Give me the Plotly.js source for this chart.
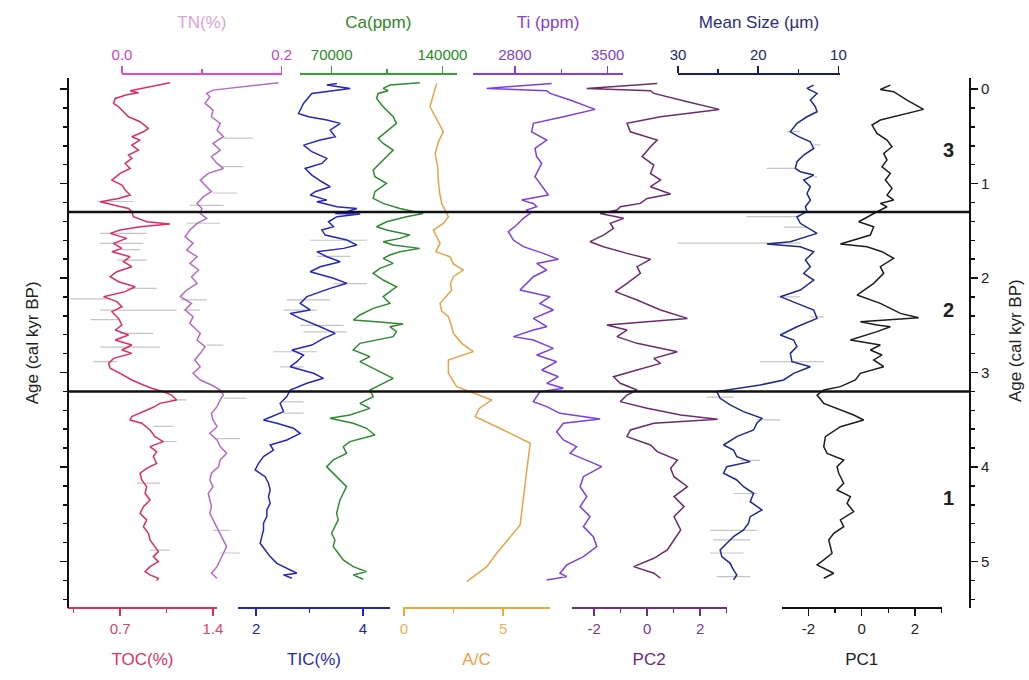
<!DOCTYPE html>
<html><head><meta charset="utf-8">
<script src="https://cdn.plot.ly/plotly-3.0.1.min.js"></script>
<style>html,body{margin:0;padding:0;background:#fff}#chart{width:1029px;height:680px}</style>
</head><body><div id="chart"></div>
<script>
// ---------- DATA (age in cal kyr BP) ----------
const tocAge=[-0.067,0.018,0.039,0.060,0.099,0.152,0.187,0.240,0.293,0.346,0.416,0.452,0.504,0.540,0.593,0.646,0.698,0.734,0.787,0.840,0.892,0.963,1.016,1.069,1.122,1.157,1.192,1.227,1.263,1.298,1.351,1.404,1.429,1.457,1.492,1.527,1.580,1.633,1.686,1.721,1.774,1.827,1.880,1.933,1.986,2.039,2.092,2.144,2.197,2.250,2.303,2.356,2.427,2.497,
2.550,2.603,2.656,2.709,2.761,2.797,2.850,2.903,2.955,3.008,3.079,3.132,3.167,3.202,3.238,3.290,3.326,3.368,3.414,3.467,3.502,3.537,3.608,3.678,3.731,3.784,3.837,3.890,3.961,4.014,4.066,4.137,4.208,4.278,4.349,4.419,4.490,4.560,4.631,4.701,4.772,4.842,4.895,4.948,5.001,5.054,5.107,5.142,5.177,5.202];
const tocVal=[1.075,0.775,0.838,0.75,0.663,0.65,0.688,0.725,0.763,0.85,0.913,0.875,0.788,0.85,0.788,0.838,0.763,0.788,0.738,0.775,0.7,0.638,0.713,0.738,0.775,0.688,0.55,0.65,0.763,0.788,0.8,0.9,1.075,0.85,0.7,0.625,0.75,0.65,0.713,0.638,0.775,0.725,0.788,0.675,0.625,0.688,0.813,0.738,0.575,0.675,0.713,0.638,0.688,0.713,
0.663,0.763,0.663,0.788,0.713,0.788,0.65,0.613,0.625,0.7,0.788,0.875,0.938,1.025,1.088,1.125,1.0,0.95,0.875,0.788,0.775,0.863,0.925,0.963,1.025,0.925,0.975,0.95,0.975,0.9,0.85,0.863,0.9,0.888,0.925,0.875,0.85,0.9,0.875,0.913,0.925,0.963,0.988,0.95,0.988,0.925,0.888,0.925,0.988,0.975];
const tocErrAge=[1.19,1.527,1.633,1.70,1.81,2.11,2.22,2.34,2.44,2.585,2.73,2.885,3.29,3.57,3.73,4.17,4.88];
const tocErrLo=[0.525,0.55,0.55,0.70,0.675,0.75,0.325,0.55,0.475,0.70,0.55,0.5,1.075,0.95,1.0,0.825,0.925];
const tocErrHi=[0.80,0.90,0.875,0.85,0.90,0.975,0.60,1.125,0.70,0.95,1.0,0.675,1.2,1.1,1.125,1.0,1.075];

const tnAge=[-0.067,0.011,0.046,0.081,0.152,0.222,0.293,0.363,0.434,0.504,0.575,0.646,0.716,0.787,0.840,0.892,0.963,1.033,1.086,1.139,1.210,1.263,1.316,1.368,1.421,1.492,1.563,1.633,1.704,1.774,1.845,1.915,1.986,2.056,2.127,2.197,2.268,2.338,2.409,2.479,2.532,
2.585,2.656,2.726,2.797,2.867,2.938,3.008,3.079,3.132,3.185,3.238,3.290,3.361,3.432,3.502,3.573,3.643,3.714,3.784,3.855,3.925,3.996,4.066,4.137,4.208,4.278,4.349,4.419,4.490,4.560,4.631,4.701,4.772,4.842,4.913,4.983,5.054,5.124,5.177];
const tnVal=[0.196,0.114,0.106,0.110,0.104,0.114,0.112,0.123,0.119,0.127,0.114,0.123,0.112,0.119,0.127,0.108,0.098,0.106,0.112,0.102,0.094,0.100,0.098,0.106,0.094,0.085,0.079,0.089,0.081,0.094,0.085,0.096,0.087,0.094,0.081,0.073,0.087,0.079,0.089,0.085,0.091,
0.098,0.094,0.104,0.098,0.091,0.098,0.089,0.098,0.112,0.123,0.127,0.123,0.119,0.112,0.114,0.119,0.110,0.119,0.123,0.131,0.123,0.121,0.112,0.110,0.114,0.108,0.110,0.112,0.110,0.114,0.119,0.123,0.127,0.131,0.127,0.123,0.119,0.112,0.119];
const tnErrAge=[0.52,0.82,1.10,1.23,1.42,2.23,2.34,2.71,3.27,3.70,4.67,4.91];
const tnErrLo=[0.127,0.123,0.114,0.085,0.081,0.073,0.077,0.106,0.127,0.119,0.114,0.123];
const tnErrHi=[0.164,0.152,0.144,0.127,0.123,0.106,0.098,0.127,0.156,0.148,0.135,0.148];

const ticAge=[-0.060,-0.042,-0.007,0.046,0.152,0.258,0.293,0.328,0.363,0.434,0.504,0.540,0.593,0.663,0.734,0.787,0.840,0.910,0.981,1.033,1.086,1.122,1.175,1.192,1.245,1.263,1.298,1.316,1.323,1.351,1.404,1.457,1.492,1.545,1.598,1.651,1.686,1.721,1.774,1.827,1.880,1.933,2.003,2.056,2.109,2.197,2.268,2.338,2.374,2.427,
2.515,2.585,2.638,2.709,2.761,2.814,2.885,2.938,3.008,3.061,3.114,3.185,3.255,3.326,3.414,3.502,3.537,3.590,3.643,3.714,3.767,3.820,3.890,3.961,4.031,4.102,4.172,4.243,4.313,4.384,4.454,4.525,4.595,4.666,4.737,4.807,4.878,4.948,5.019,5.089,5.124,5.142,5.177];
const ticVal=[3.514,3.326,3.764,3.044,2.888,2.794,2.982,3.326,3.576,3.388,3.482,3.201,2.888,3.044,3.326,3.232,2.919,3.044,3.232,3.388,3.107,3.013,3.326,3.138,3.514,3.889,3.701,3.482,3.951,3.514,3.357,3.451,3.232,3.295,3.701,3.889,3.639,3.138,3.326,3.576,3.201,3.013,3.451,3.701,3.388,2.951,2.826,3.013,2.638,2.826,
3.201,3.482,3.263,3.044,2.669,2.888,2.763,2.638,3.076,3.263,2.951,2.638,2.575,2.45,2.513,2.138,2.388,2.7,2.826,2.575,2.263,2.325,2.138,2.044,1.981,2.169,2.231,2.263,2.231,2.263,2.2,2.2,2.138,2.138,2.106,2.075,2.169,2.263,2.388,2.638,2.763,2.513,2.669];
const ticErrAge=[1.60,1.77,2.06,2.23,2.34,2.50,2.57,2.78,2.94,3.31,3.43];
const ticErrLo=[3.013,3.138,3.451,2.575,2.513,2.826,2.888,2.325,2.45,2.513,2.513];
const ticErrHi=[4.076,3.764,4.076,3.388,3.138,3.639,3.701,3.138,2.888,2.888,2.888];

const caAge=[-0.067,-0.042,-0.007,0.018,0.046,0.099,0.187,0.293,0.363,0.452,0.522,0.575,0.646,0.716,0.787,0.857,0.928,0.998,1.086,1.157,1.210,1.263,1.316,1.351,1.404,1.457,1.492,1.545,1.580,1.615,1.651,1.686,1.721,1.756,1.792,1.845,1.898,1.950,2.021,2.092,2.144,2.197,2.268,2.321,2.391,2.444,
2.462,2.486,2.515,2.567,2.620,2.691,2.761,2.832,2.885,2.938,3.008,3.061,3.114,3.185,3.255,3.326,3.379,3.449,3.484,3.537,3.590,3.661,3.731,3.784,3.855,3.925,3.996,4.066,4.137,4.208,4.278,4.349,4.419,4.490,4.560,4.631,4.701,4.772,4.842,4.913,4.983,5.054,5.107,5.142,5.188];
const caVal=[125680,106760,102560,105710,99410,98360,102560,108870,110970,104660,99410,102560,108870,104660,100460,96250,97300,104660,97300,96250,102560,113070,127780,117270,104660,98360,104660,119380,113070,102560,108870,125680,113070,106760,102560,108870,100460,96250,102560,110970,106760,102560,106760,96250,87850,83640,
98360,115170,106760,110970,108870,87850,83640,94150,87850,94150,102560,108870,102560,94150,96250,87850,94150,81540,68930,83640,92050,97300,81540,77340,79440,71030,66830,71030,75230,79440,77340,75230,74180,73130,74180,72080,69980,72080,71030,74180,77340,83640,92050,83640,89950];

const acAge=[-0.06,0.05,0.187,0.3,0.452,0.55,0.681,0.82,0.963,1.1,1.21,1.351,1.42,1.492,1.56,1.633,1.72,1.774,1.85,1.915,1.986,2.06,2.127,2.268,2.35,2.409,2.515,2.585,2.691,2.779,2.867,3.008,3.149,3.202,3.29,3.38,3.467,3.608,3.749,4.031,4.313,4.613,4.913,5.054,5.213];
const acVal=[1.65,1.5,1.31,1.6,1.99,1.75,1.57,1.7,1.73,1.8,1.9,2.24,2.0,1.48,1.65,1.82,1.6,2.32,2.5,2.99,2.49,2.35,2.41,1.82,1.9,2.24,2.41,2.49,2.91,3.5,2.24,2.24,2.66,3.33,4.43,3.8,3.59,5.02,6.37,6.2,6.03,5.86,4.68,4.18,3.17];

const tiAge=[-0.060,-0.007,0.018,0.046,0.116,0.215,0.293,0.363,0.452,0.540,0.628,0.716,0.787,0.857,0.928,0.998,1.122,1.175,1.210,1.245,1.280,1.316,1.368,1.439,1.510,1.598,1.668,1.739,1.802,1.845,1.915,1.986,2.056,2.127,2.197,2.268,2.338,2.427,2.515,
2.550,2.620,2.656,2.744,2.814,2.885,2.973,3.044,3.114,3.167,3.202,3.308,3.361,3.432,3.491,3.537,3.626,3.714,3.784,3.855,3.996,4.102,4.208,4.313,4.419,4.525,4.631,4.737,4.842,4.948,5.036,5.124,5.160,5.195];
const tiVal=[3077,2586,3040,3065,3216,3405,3166,2939,2926,3040,2951,2964,3002,2977,2951,2989,3052,2850,2939,2964,2888,2914,2863,2813,2750,2788,2863,3014,3128,2964,3040,2939,2888,2838,3065,2989,3090,2939,3040,
2939,2788,2939,3090,2964,3115,3002,3128,3040,3166,2989,2939,3040,3140,3443,3166,3115,3166,3266,3216,3455,3317,3292,3342,3292,3367,3317,3392,3418,3317,3191,3140,3191,3040];

const pc2Age=[-0.060,-0.007,0.018,0.046,0.134,0.215,0.293,0.363,0.452,0.540,0.610,0.716,0.804,0.892,0.963,1.033,1.111,1.157,1.210,1.245,1.280,1.316,1.368,1.421,1.474,1.545,1.615,1.668,1.739,1.802,1.880,1.950,2.056,2.144,2.233,2.338,2.427,2.497,
2.550,2.620,2.691,2.779,2.850,2.903,2.973,3.044,3.114,3.185,3.238,3.308,3.379,3.449,3.495,3.537,3.608,3.678,3.767,3.837,3.925,4.014,4.102,4.208,4.313,4.419,4.525,4.666,4.772,4.878,4.966,5.054,5.124,5.177];
const pc2Val=[0.379,-2.283,0.125,0.252,1.519,2.723,0.505,-0.762,-0.635,0.379,0.125,-0.192,0.252,0.125,0.505,0.125,0.886,-0.002,-0.255,-1.016,-1.142,-1.776,-0.889,-1.396,-1.269,-1.649,-2.156,-1.649,-0.762,0.125,-0.382,-0.255,-0.762,-1.206,-0.382,0.505,1.519,-1.523,
-0.762,-1.142,-0.382,1.139,0.252,0.505,-0.382,-1.269,-1.016,-0.382,-0.762,-1.016,-0.002,1.266,2.66,0.252,-0.635,-0.762,0.125,0.379,1.139,0.886,1.012,1.519,1.012,1.392,1.012,1.266,1.012,0.759,0.252,-0.508,0.252,0.505];

const msAge=[-0.042,-0.007,0.046,0.116,0.187,0.240,0.293,0.363,0.452,0.504,0.557,0.628,0.698,0.769,0.840,0.875,0.910,0.963,1.033,1.104,1.175,1.245,1.298,1.351,1.421,1.527,1.615,1.640,1.668,1.721,1.809,1.880,1.950,2.021,2.127,2.197,2.268,2.338,2.427,2.497,
2.515,2.603,2.656,2.726,2.797,2.885,2.938,3.008,3.079,3.132,3.167,3.202,3.273,3.343,3.414,3.484,3.537,3.608,3.678,3.767,3.820,3.890,3.943,3.996,4.066,4.137,4.208,4.278,4.366,4.454,4.525,4.595,4.666,4.737,4.807,4.878,4.948,5.019,5.089,5.142,5.195];
const msVal=[13.08,13.92,12.67,13.5,12.87,12.67,13.92,15.17,16.0,14.96,13.5,13.08,14.33,15.17,15.37,14.75,13.08,14.33,13.5,13.92,13.5,14.12,13.92,15.17,14.75,12.67,16.0,18.92,14.75,13.08,14.12,13.5,14.33,13.08,14.75,17.25,15.17,13.08,12.67,14.75,
15.17,17.25,15.58,15.17,16.0,15.79,13.5,15.58,16.83,19.75,22.25,25.17,24.75,23.5,21.83,19.54,20.17,20.58,22.67,24.33,23.08,22.67,21.0,23.92,24.33,22.67,21.83,20.58,21.0,19.54,21.0,21.21,21.83,23.08,23.92,24.75,24.54,23.5,23.08,22.67,23.08];
const msErrAge=[0.45,0.59,0.84,0.93,1.35,1.46,1.63,2.20,2.41,2.885,3.26,3.50,3.93,4.28,4.67,4.77,4.91,5.16];
const msErrLo=[16.42,13.08,18.92,13.08,21.42,16.83,30.0,17.67,13.5,19.75,26.42,17.25,22.25,23.08,26.0,25.58,26.0,25.17];
const msErrHi=[14.75,12.25,15.17,12.67,14.75,13.92,14.75,14.75,11.83,11.83,23.08,20.17,19.75,20.17,20.17,21.0,21.83,21.0];

const pc1Age=[-0.042,0.004,0.028,0.116,0.215,0.275,0.328,0.381,0.469,0.540,0.610,0.681,0.751,0.822,0.892,0.963,1.051,1.122,1.175,1.210,1.245,1.298,1.351,1.404,1.457,1.545,1.640,1.668,1.721,1.792,1.880,1.950,2.056,2.180,2.268,2.374,2.420,2.462,2.497,
2.515,2.567,2.656,2.709,2.761,2.814,2.867,2.938,3.008,3.079,3.149,3.185,3.238,3.326,3.396,3.449,3.502,3.573,3.678,3.784,3.855,3.925,3.996,4.066,4.172,4.243,4.313,4.384,4.472,4.560,4.631,4.701,4.772,4.842,4.913,4.983,5.036,5.124,5.177];
const pc1Val=[1.075,0.70,1.20,1.70,2.32,1.45,0.70,0.388,0.575,0.95,1.137,0.825,0.95,0.763,1.075,0.888,1.137,0.95,1.20,0.70,0.95,0.575,0.201,-0.111,0.451,0.326,-0.798,0.201,0.763,1.20,0.70,0.825,0.451,-0.174,0.70,1.45,2.136,-0.049,0.575,
1.075,0.575,-0.423,0.70,0.326,0.763,0.451,0.825,-0.049,-0.236,-0.798,-1.422,-1.672,-1.422,-0.798,-0.298,0.076,-0.798,-1.36,-1.422,-1.297,-0.673,-0.923,-0.86,-0.673,-0.923,-0.423,-0.548,-0.298,-0.798,-0.673,-1.047,-1.235,-1.172,-1.11,-1.422,-1.672,-1.047,-1.422];

// zone boundaries and labels
const zoneBounds=[1.3,3.2];
const zoneNames=['3','2','1'];
const zoneLabelAge=[0.645,2.34,4.33];

// axis tick labels
const ageTicks=[0,1,2,3,4,5];
const ageTitle='Age (cal kyr BP)';
const tocTicks=[0.7,1.4], tocMinor=[0.35,1.05];
const tnTicks=[0,0.2], tnTickText=['0.0','0.2'], tnMinor=[0.1];
const ticTicks=[2,4], ticMinor=[3];
const caTicks=[70000,140000], caTickText=['70000','140000'], caMinor=[105000];
const acTicks=[0,5], acMinor=[2.5];
const tiTicks=[2800,3500], tiTickText=['2800','3500'], tiMinor=[3150];
const pcTicks=[-2,0,2], pcMinor=[-1,1,3];
const msTicks=[30,20,10], msMinor=[25,15];

// ---------- CHART ----------
const F='Liberation Sans, Arial, sans-serif';
function xa(domain,range,side,lineColor,labelColor,titleText,titleColor,tickvals,ticktext,minorvals){
  return {domain:domain,range:range,anchor:'free',position:side==='top'?1:0,side:side,
    showline:true,linecolor:lineColor,linewidth:2,ticks:'outside',ticklen:7,tickwidth:1.5,tickcolor:lineColor,
    tickmode:'array',tickvals:tickvals,ticktext:ticktext||tickvals.map(String),
    tickfont:{size:15,color:labelColor,family:F},showgrid:false,zeroline:false,
    minor:{tickmode:'array',tickvals:minorvals,ticks:'outside',ticklen:4,tickwidth:1.5,tickcolor:lineColor,showgrid:false},
    title:{text:titleText,font:{size:17,color:titleColor,family:F},standoff:side==='top'?12:16},automargin:false,fixedrange:true};
}
// grey range bars (drawn beneath the curves)
function bars(ages,lo,hi,ax){
  const xs=[],ys=[];
  ages.forEach((a,i)=>{xs.push(lo[i],hi[i],null);ys.push(a,a,null);});
  return {type:'scatter',mode:'lines',x:xs,y:ys,xaxis:ax,yaxis:'y',connectgaps:false,
    line:{color:'rgba(150,150,150,0.55)',width:1.2},hoverinfo:'skip',showlegend:false};
}
const series=[
  {x:tocVal,y:tocAge,ax:'x',ay:'y',c:'#dc2d68'},
  {x:tnVal,y:tnAge,ax:'x2',ay:'y',c:'#b46cc4'},
  {x:ticVal,y:ticAge,ax:'x3',ay:'y',c:'#2626c0'},
  {x:caVal,y:caAge,ax:'x4',ay:'y',c:'#2f8a34'},
  {x:acVal,y:acAge,ax:'x5',ay:'y',c:'#e9a24a'},
  {x:tiVal,y:tiAge,ax:'x6',ay:'y',c:'#7b3fe4'},
  {x:pc2Val,y:pc2Age,ax:'x7',ay:'y',c:'#6b2d6e'},
  {x:msVal,y:msAge,ax:'x8',ay:'y',c:'#1f2a8a'},
  {x:pc1Val,y:pc1Age,ax:'x9',ay:'y2',c:'#1e1e1e'}
];
const traces=[
  bars(tocErrAge,tocErrLo,tocErrHi,'x'),
  bars(tnErrAge,tnErrLo,tnErrHi,'x2'),
  bars(ticErrAge,ticErrLo,ticErrHi,'x3'),
  bars(msErrAge,msErrLo,msErrHi,'x8')
].concat(series.map(s=>({type:'scatter',mode:'lines',x:s.x,y:s.y,xaxis:s.ax,yaxis:s.ay,
  line:{color:s.c,width:1.5},hoverinfo:'skip',showlegend:false})));

const yRange=[5.492,-0.12];
const ageAxis=(side)=>({domain:[0,0.993],range:yRange,anchor:'free',position:side==='left'?0:1,side:side,
    showline:true,linecolor:'#111',linewidth:2,
    ticks:'outside',ticklen:7,tickwidth:1.5,tickcolor:'#111',tickmode:'array',tickvals:ageTicks,
    showticklabels:side!=='left',tickfont:{size:15,color:'#222',family:F},
    minor:{dtick:0.2,tick0:0,ticks:'outside',ticklen:4,tickwidth:1.5,tickcolor:'#111',showgrid:false},
    showgrid:false,zeroline:false,
    title:{text:side==='left'?ageTitle:'',font:{size:17,color:'#222',family:F},standoff:16},
    automargin:false,fixedrange:true});
const zoneAnn=zoneNames.map((n,i)=>({xref:'paper',yref:'y',x:0.984,y:zoneLabelAge[i],text:'<b>'+n+'</b>',showarrow:false,
    font:{size:20,color:'#222',family:F}}));
const rightTitle={xref:'paper',yref:'paper',x:1.05,y:0.5,xanchor:'center',yanchor:'middle',text:ageTitle,textangle:-90,
    showarrow:false,font:{size:17,color:'#222',family:F}};
const layout={
  width:1029,height:680,margin:{l:68,r:59,t:74,b:72},
  paper_bgcolor:'#fff',plot_bgcolor:'rgba(0,0,0,0)',showlegend:false,
  font:{family:F,color:'#222'},
  xaxis: xa([0,0.1652],[0.307,1.43],'bottom','#d6305c','#d8456e','TOC(%)','#e0306a',tocTicks,null,tocMinor),
  xaxis2:xa([0.0599,0.2369],[0,0.2],'top','#e044e0','#d040d0','TN(%)','#d9a3dc',tnTicks,tnTickText,tnMinor),
  xaxis3:xa([0.1885,0.357],[1.66,4.51],'bottom','#2222c0','#262696','TIC(%)','#2a2aa8',ticTicks,null,ticMinor),
  xaxis4:xa([0.2572,0.4309],[50000,149000],'top','#36a036','#2a8a2a','Ca(ppm)','#2a8a2a',caTicks,caTickText,caMinor),
  xaxis5:xa([0.3714,0.5344],[-0.05,7.37],'bottom','#f0a838','#efb055','A/C','#eea040',acTicks,null,acMinor),
  xaxis6:xa([0.449,0.6153],[2483,3616],'top','#8a3ae0','#8040d0','Ti (ppm)','#8a40d0',tiTicks,tiTickText,tiMinor),
  xaxis7:xa([0.5584,0.7302],[-2.85,3.0],'bottom','#70307c','#7a3a8a','PC2','#6a2a7a',pcTicks,null,pcMinor),
  xaxis8:xa([0.6763,0.8559],[30,9.8],'top','#1c1c70','#24246a','Mean Size (µm)','#2c2c80',msTicks,null,msMinor),
  xaxis9:xa([0.7912,0.9686],[-3,3],'bottom','#111','#222','PC1','#222',pcTicks,null,pcMinor),
  yaxis:ageAxis('left'),
  yaxis2:ageAxis('right'),
  shapes:zoneBounds.map(b=>({type:'line',xref:'paper',yref:'y',x0:0,x1:1,y0:b,y1:b,line:{color:'#111',width:2.5},layer:'above'})),
  annotations:zoneAnn.concat([rightTitle])
};
Plotly.newPlot('chart',traces,layout,{displayModeBar:false,staticPlot:true});
</script></body></html>
